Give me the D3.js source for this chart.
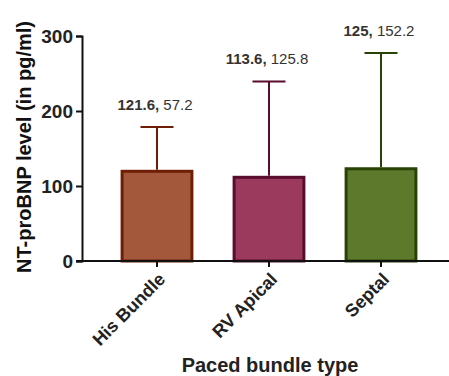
<!DOCTYPE html>
<html>
<head>
<meta charset="utf-8">
<script src="https://cdn.jsdelivr.net/npm/d3@7"></script>
<style>
  body { margin: 0; background: #fff; }
  text { font-family: "Liberation Sans", Arial, sans-serif; }
</style>
</head>
<body>
<div id="chart"></div>
<script>
var groups = ["His Bundle", "RV Apical", "Septal"];
var means = [121.6, 113.6, 125];
var sds = [57.2, 125.8, 152.2];
var fills = ["#a3573b", "#9c3a5d", "#5d7a2c"];
var strokes = ["#6e1e04", "#590d2e", "#2a4206"];
var yTicks = [0, 100, 200, 300];

var W = 449, H = 376;

var svg = d3.select("#chart")
    .append("svg")
    .attr("width", W)
    .attr("height", H);

var y = d3.scaleLinear().domain([0, 300]).range([261, 36]);

var x = d3.scaleBand()
    .domain(groups)
    .range([101, 437])
    .paddingInner(0.35)
    .paddingOuter(0.175);

// y axis
var yAxis = svg.append("g")
    .attr("transform", "translate(82,0)")
    .call(d3.axisLeft(y).tickValues(yTicks).tickSize(6).tickPadding(3));
yAxis.select(".domain").attr("stroke", "#111").attr("stroke-width", 2);
yAxis.selectAll(".tick line").attr("stroke", "#111").attr("stroke-width", 2);
yAxis.selectAll(".tick text")
    .attr("font-size", 19).attr("font-weight", "bold").attr("fill", "#222")
    .attr("font-family", "Liberation Sans, Arial, sans-serif");

// bars
var bars = svg.append("g").selectAll("g")
    .data(groups)
    .enter().append("g");

// error bars (drawn first so the bar covers the lower part)
bars.append("line")
    .attr("x1", function(d) { return x(d) + x.bandwidth() / 2; })
    .attr("x2", function(d) { return x(d) + x.bandwidth() / 2; })
    .attr("y1", function(d, i) { return y(means[i]); })
    .attr("y2", function(d, i) { return y(means[i] + sds[i]); })
    .attr("stroke", function(d, i) { return strokes[i]; })
    .attr("stroke-width", 2);
bars.append("line")
    .attr("x1", function(d) { return x(d) + x.bandwidth() / 2 - 16.5; })
    .attr("x2", function(d) { return x(d) + x.bandwidth() / 2 + 16.5; })
    .attr("y1", function(d, i) { return y(means[i] + sds[i]); })
    .attr("y2", function(d, i) { return y(means[i] + sds[i]); })
    .attr("stroke", function(d, i) { return strokes[i]; })
    .attr("stroke-width", 2);

bars.append("rect")
    .attr("x", function(d) { return x(d) + 1.5; })
    .attr("width", x.bandwidth() - 3)
    .attr("y", function(d, i) { return y(means[i]) + 1.5; })
    .attr("height", function(d, i) { return y(0) - y(means[i]) - 1.5; })
    .attr("fill", function(d, i) { return fills[i]; })
    .attr("stroke", function(d, i) { return strokes[i]; })
    .attr("stroke-width", 3);

// value labels: "mean, sd"
var lab = bars.append("text")
    .attr("x", function(d) { return x(d) + x.bandwidth() / 2 - 2; })
    .attr("y", function(d, i) { return y(means[i] + sds[i]) - 17; })
    .attr("text-anchor", "middle")
    .attr("font-size", 15)
    .attr("fill", "#333");
lab.append("tspan").attr("font-weight", "bold").text(function(d, i) { return means[i] + ", "; });
lab.append("tspan").text(function(d, i) { return sds[i]; });

// x axis
var xAxis = svg.append("g")
    .attr("transform", "translate(0,261)")
    .call(d3.axisBottom(x).tickSize(6).tickSizeOuter(0));
xAxis.select(".domain").attr("d", "M76,0H449").attr("stroke", "#111").attr("stroke-width", 2);
xAxis.selectAll(".tick line").attr("stroke", "#111").attr("stroke-width", 2);
xAxis.selectAll(".tick text")
    .attr("font-size", 18).attr("font-weight", "bold").attr("fill", "#222")
    .attr("font-family", "Liberation Sans, Arial, sans-serif")
    .attr("text-anchor", "end")
    .attr("dy", 0)
    .attr("transform", "translate(3,13) rotate(-45)");

// axis titles
svg.append("text")
    .attr("transform", "translate(31,147) rotate(-90)")
    .attr("text-anchor", "middle")
    .attr("font-size", 20)
    .attr("font-weight", "bold")
    .attr("fill", "#111")
    .text("NT-proBNP level (in pg/ml)");

svg.append("text")
    .attr("x", 270)
    .attr("y", 372)
    .attr("text-anchor", "middle")
    .attr("font-size", 20)
    .attr("font-weight", "bold")
    .attr("fill", "#222")
    .text("Paced bundle type");
</script>
</body>
</html>
